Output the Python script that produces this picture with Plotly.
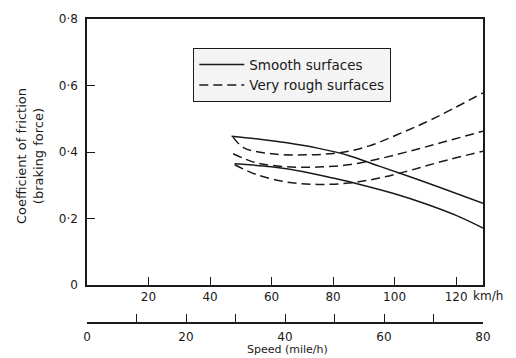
import plotly.graph_objects as go

# ---- data (speed in km/h, coefficient of friction) ----
smooth_upper_kmh = [47, 55, 65, 75, 85, 95, 105, 115, 128.75]
smooth_upper_mu = [0.448, 0.440, 0.428, 0.412, 0.390, 0.358, 0.326, 0.293, 0.246]

smooth_lower_kmh = [48, 60, 70, 80, 90, 100, 110, 120, 128.75]
smooth_lower_mu = [0.365, 0.356, 0.342, 0.322, 0.300, 0.275, 0.245, 0.210, 0.172]

rough_top_kmh = [47.5, 51, 60, 71, 82, 91.5, 101, 112, 128.75]
rough_top_mu = [0.445, 0.413, 0.395, 0.392, 0.398, 0.418, 0.453, 0.498, 0.578]

rough_mid_kmh = [47.5, 55, 65, 75, 85, 95, 105, 115, 128.75]
rough_mid_mu = [0.395, 0.368, 0.356, 0.355, 0.362, 0.380, 0.403, 0.428, 0.463]

rough_bot_kmh = [48, 55, 65, 75, 85, 95, 105, 115, 128.75]
rough_bot_mu = [0.362, 0.333, 0.310, 0.303, 0.307, 0.322, 0.345, 0.371, 0.403]

kmh_ticks = [20, 40, 60, 80, 100, 120]
kmh_labels = ["20", "40", "60", "80", "100", "120"]
mph_ticks = [0, 10, 20, 30, 40, 50, 60, 70, 80]
mph_labels = ["0", "", "20", "", "40", "", "60", "", "80"]
mu_ticks = [0, 0.2, 0.4, 0.6, 0.8]
mu_labels = ["0", "0·2", "0·4", "0·6", "0·8"]

INK = "#1a1a1a"
FONT = "DejaVu Sans"
DASH = "9px,5px"

fig = go.Figure()

def add(x, y, name, dash, show):
    fig.add_trace(go.Scatter(
        x=x, y=y, mode="lines", name=name, showlegend=show,
        legendgroup=name, line=dict(color=INK, width=1.5, dash=dash, shape="spline"),
        hoverinfo="skip"))

add(smooth_upper_kmh, smooth_upper_mu, "Smooth surfaces", "solid", True)
add(smooth_lower_kmh, smooth_lower_mu, "Smooth surfaces", "solid", False)
add(rough_top_kmh, rough_top_mu, "Very rough surfaces", DASH, True)
add(rough_mid_kmh, rough_mid_mu, "Very rough surfaces", DASH, False)
add(rough_bot_kmh, rough_bot_mu, "Very rough surfaces", DASH, False)

# invisible trace so the mile/h axis is drawn
fig.add_trace(go.Scatter(x=[0, 80], y=[0, 0], xaxis="x2", mode="markers",
                         marker=dict(opacity=0), showlegend=False, hoverinfo="skip"))

W, H = 516, 358
L, R, T, B = 87, 33, 17, 35
plot_w = W - L - R
plot_h = H - T - B
y_bottom_px = 285
ydom0 = (H - B - y_bottom_px) / plot_h

def px(xp):
    return (xp - L) / plot_w

def py(yp):
    return (H - B - yp) / plot_h

fig.update_layout(
    width=W, height=H,
    margin=dict(l=L, r=R, t=T, b=B, pad=0),
    paper_bgcolor="white", plot_bgcolor="white",
    font=dict(family=FONT, color=INK, size=12),
    xaxis=dict(range=[0, 128.75], domain=[0, 1], anchor="y",
               tickvals=kmh_ticks, ticktext=kmh_labels,
               ticks="inside", ticklen=8, tickwidth=1.3, tickcolor=INK,
               showline=True, linecolor=INK, linewidth=1.5, mirror=True,
               showgrid=False, zeroline=False, ticklabelstandoff=0,
               tickfont=dict(size=12)),
    xaxis2=dict(range=[0, 80], overlaying="x", anchor="free", position=0,
                tickvals=mph_ticks, ticktext=mph_labels,
                ticks="inside", ticklen=8, tickwidth=1.3, tickcolor=INK,
                showline=True, linecolor=INK, linewidth=1.5,
                showgrid=False, zeroline=False, ticklabelstandoff=3,
                tickfont=dict(size=12)),
    yaxis=dict(range=[0, 0.8], domain=[ydom0, 1],
               tickvals=mu_ticks, ticktext=mu_labels,
               ticks="inside", ticklen=8, tickwidth=1.3, tickcolor=INK,
               showline=True, linecolor=INK, linewidth=1.5, mirror=True,
               showgrid=False, zeroline=False, ticklabelstandoff=5,
               tickfont=dict(size=12)),
    legend=dict(x=px(193), y=py(46),
                xanchor="left", yanchor="top",
                bgcolor="#f4f4f4", bordercolor=INK, borderwidth=1.3,
                font=dict(size=13.5, family=FONT), tracegroupgap=0,
                itemwidth=45),
    annotations=[
        dict(text="km/h", xref="paper", yref="paper",
             x=px(471), y=py(296),
             xanchor="left", yanchor="middle", showarrow=False,
             font=dict(size=12)),
        dict(text="Speed (mile/h)", xref="paper", yref="paper",
             x=px(287), y=py(357), borderpad=0,
             xanchor="center", yanchor="bottom", showarrow=False,
             font=dict(size=11)),
        dict(text="Coefficient of friction<br>(braking force)", xref="paper", yref="paper",
             x=px(30), y=py(155),
             xanchor="center", yanchor="middle", showarrow=False, textangle=-90,
             font=dict(size=13)),
    ],
)

fig.write_html(
    "out.html",
    config={"displayModeBar": False},
    post_script="document.body.style.margin='0';document.body.style.overflow='hidden';",
)
